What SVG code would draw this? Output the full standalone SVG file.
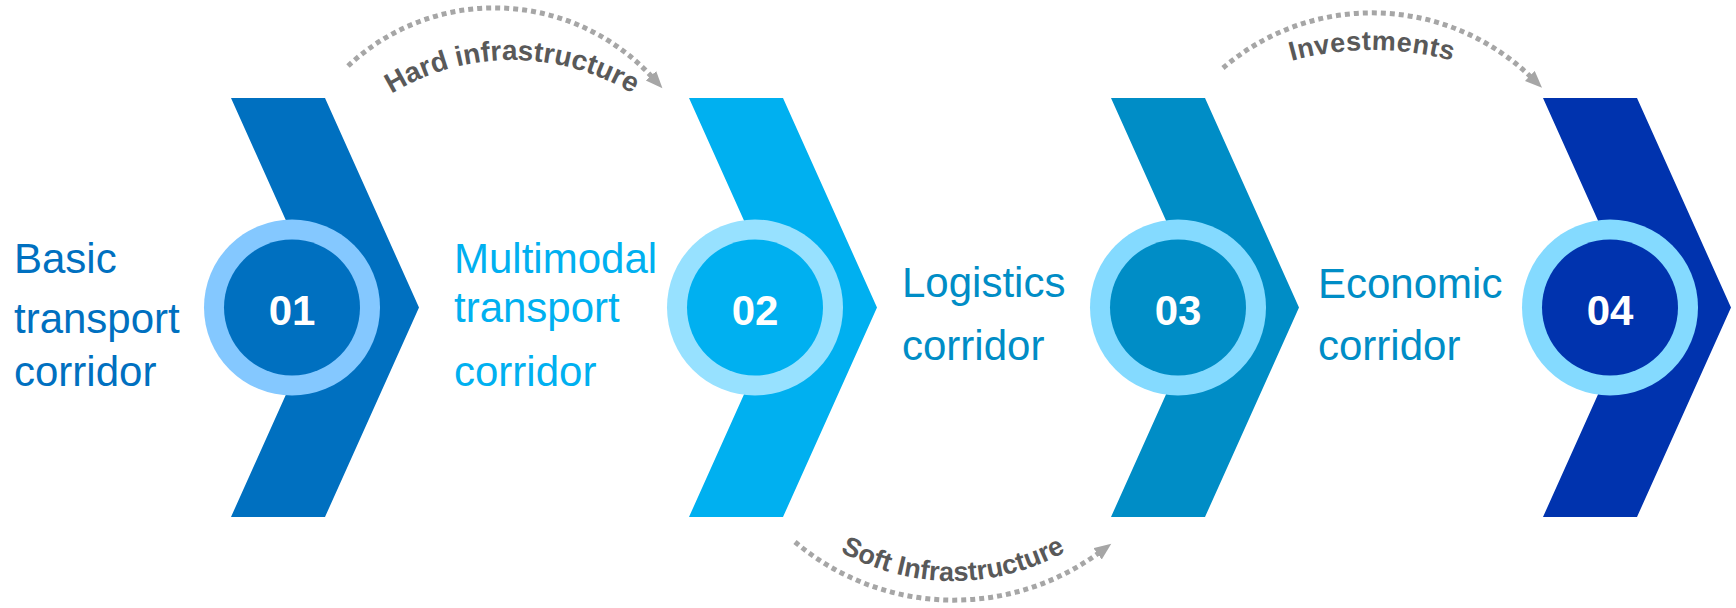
<svg xmlns="http://www.w3.org/2000/svg" xmlns:xlink="http://www.w3.org/1999/xlink" width="1736" height="608" viewBox="0 0 1736 608">
<style>
.lbl{font-family:"Liberation Sans",Arial,sans-serif;font-size:42px}
.num{font-family:"Liberation Sans",Arial,sans-serif;font-size:42px;font-weight:bold;fill:#FFFFFF;text-anchor:middle}
.arc{fill:none;stroke:#A6A6A6;stroke-width:5;stroke-dasharray:5 4}
.arcl{font-family:"Liberation Sans",Arial,sans-serif;font-weight:bold;fill:#595959}
</style>
<defs>
<marker id="ah" markerUnits="userSpaceOnUse" markerWidth="20" markerHeight="16" refX="3" refY="7" orient="auto">
<path d="M0,0 L17,7 L0,14 Z" fill="#A6A6A6"/>
</marker>
<path id="tp1" d="M280,292 A232,232 0 0 1 744,292"/>
<path id="tp2" d="M722,350 A231,231 0 0 0 1184,350"/>
<path id="tp3" d="M1070,352 A302,302 0 0 1 1674,352"/>
</defs>
<rect width="1736" height="608" fill="#FFFFFF"/>

<g id="connectors">
<path class="arc" d="M348,66 A214,214 0 0 1 653,78" marker-end="url(#ah)"/>
<path class="arc" d="M795,542 A246,246 0 0 0 1100,552" marker-end="url(#ah)"/>
<path class="arc" d="M1223,68 A229,229 0 0 1 1532,78" marker-end="url(#ah)"/>
<text class="arcl" font-size="28"><textPath xlink:href="#tp1" href="#tp1" startOffset="50%" text-anchor="middle">Hard infrastructure</textPath></text>
<text class="arcl" font-size="27"><textPath xlink:href="#tp2" href="#tp2" startOffset="50%" text-anchor="middle">Soft Infrastructure</textPath></text>
<text class="arcl" font-size="27" letter-spacing="0.5"><textPath xlink:href="#tp3" href="#tp3" startOffset="50%" text-anchor="middle">Investments</textPath></text>
</g>

<g id="node1">
<polygon points="231,98 325,98 419,307.5 325,517 231,517 325,307.5" fill="#0070C0"/>
<circle cx="292" cy="307.5" r="88" fill="#84C8FF"/>
<circle cx="292" cy="307.5" r="68" fill="#0070C0"/>
<text class="num" x="292" y="325">01</text>
<text class="lbl" fill="#0070C0"><tspan x="14" y="273">Basic</tspan><tspan x="14" y="333">transport</tspan><tspan x="14" y="386">corridor</tspan></text>
</g>

<g id="node2">
<polygon points="689,98 783,98 877,307.5 783,517 689,517 783,307.5" fill="#00B0F0"/>
<circle cx="755" cy="307.5" r="88" fill="#97E1FF"/>
<circle cx="755" cy="307.5" r="68" fill="#00B0F0"/>
<text class="num" x="755" y="325">02</text>
<text class="lbl" fill="#00B0F0"><tspan x="454" y="273">Multimodal</tspan><tspan x="454" y="322">transport</tspan><tspan x="454" y="386">corridor</tspan></text>
</g>

<g id="node3">
<polygon points="1111,98 1205,98 1299,307.5 1205,517 1111,517 1205,307.5" fill="#008DC6"/>
<circle cx="1178" cy="307.5" r="88" fill="#84DAFF"/>
<circle cx="1178" cy="307.5" r="68" fill="#008DC6"/>
<text class="num" x="1178" y="325">03</text>
<text class="lbl" fill="#008DC6"><tspan x="902" y="297">Logistics</tspan><tspan x="902" y="360">corridor</tspan></text>
</g>

<g id="node4">
<polygon points="1543,98 1637,98 1731,307.5 1637,517 1543,517 1637,307.5" fill="#0033AE"/>
<circle cx="1610" cy="307.5" r="88" fill="#84DAFF"/>
<circle cx="1610" cy="307.5" r="68" fill="#0033AE"/>
<text class="num" x="1610" y="325">04</text>
<text class="lbl" fill="#008DC6"><tspan x="1318" y="298">Economic</tspan><tspan x="1318" y="360">corridor</tspan></text>
</g>
</svg>
